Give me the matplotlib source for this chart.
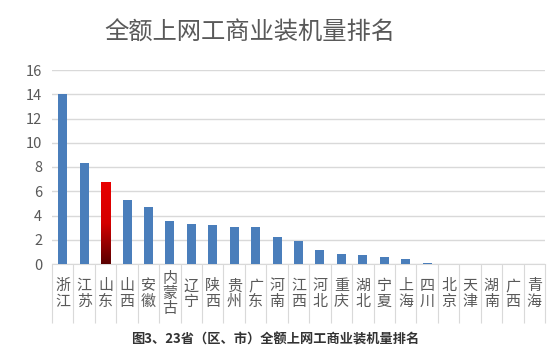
import matplotlib.pyplot as plt
import numpy as np
from matplotlib.colors import LinearSegmentedColormap

plt.rcParams['font.family'] = ['Noto Sans CJK SC', 'DejaVu Sans']

# data
provinces = ['浙江', '江苏', '山东', '山西', '安徽', '内蒙古', '辽宁', '陕西', '贵州', '广东',
             '河南', '江西', '河北', '重庆', '湖北', '宁夏', '上海', '四川', '北京', '天津',
             '湖南', '广西', '青海']
capacity = [14.0, 8.3, 6.75, 5.28, 4.7, 3.55, 3.3, 3.22, 3.05, 3.05,
            2.23, 1.9, 1.15, 0.82, 0.74, 0.58, 0.41, 0.11, 0, 0,
            0, 0, 0]
highlight = '山东'
yticks = [0, 2, 4, 6, 8, 10, 12, 14, 16]
title = '全额上网工商业装机量排名'
caption = '图3、23省（区、市）全额上网工商业装机量排名'

blue = '#4a7ebb'
gray_txt = '#595959'
grid_c = '#d9d9d9'

fig = plt.figure(figsize=(5.59, 3.56), dpi=100)
ax = fig.add_axes([52/559, 92/356, 493/559, 194/356])

x = np.arange(len(provinces))
w = 0.42
bars = ax.bar(x, capacity, width=w, color=blue, zorder=3)

# gradient on the highlighted bar
hi = provinces.index(highlight)
cmap = LinearSegmentedColormap.from_list('redgrad', [(0, '#5a0000'), (0.5, '#d40000'), (1, '#e80000')])
grad = np.linspace(0, 1, 256).reshape(-1, 1)
bars[hi].set_facecolor('none')
im = ax.imshow(grad, cmap=cmap, origin='lower', aspect='auto', zorder=4,
               extent=[hi - w/2, hi + w/2, 0, capacity[hi]])
im.set_clip_path(bars[hi])

ax.set_xlim(-0.5, len(provinces) - 0.5)
ax.set_ylim(0, 16)
ax.set_yticks(yticks)
ax.yaxis.grid(True, color=grid_c, linewidth=1, zorder=0)
ax.tick_params(axis='y', length=0, pad=7, labelsize=10.5, labelcolor=gray_txt)

# category labels stacked vertically, separators between them
ax.set_xticks(x)
ax.set_xticklabels([])
ax.tick_params(axis='x', which='major', length=0)
ax.set_xticks(np.arange(len(provinces) + 1) - 0.5, minor=True)
ax.tick_params(axis='x', which='minor', length=42.5, width=0.8, color=grid_c)
for i, name in enumerate(provinces):
    ax.annotate('\n'.join(name), xy=(i, 0), xycoords=('data', 'axes fraction'),
                xytext=(0, -21.6), textcoords='offset points', ha='center', va='center',
                fontsize=10.8, color=gray_txt, linespacing=1.12)

for s in ['top', 'right', 'left']:
    ax.spines[s].set_visible(False)
ax.spines['bottom'].set_color(grid_c)

fig.text(250/559, 1 - 33/356, title, ha='center', va='center', fontsize=17.5, color=gray_txt)
fig.text(275/559, 1 - 340/356, caption, ha='center', va='center', fontsize=9.5,
         fontweight='bold', color='#333333')

fig.savefig('out.png', dpi=100)
